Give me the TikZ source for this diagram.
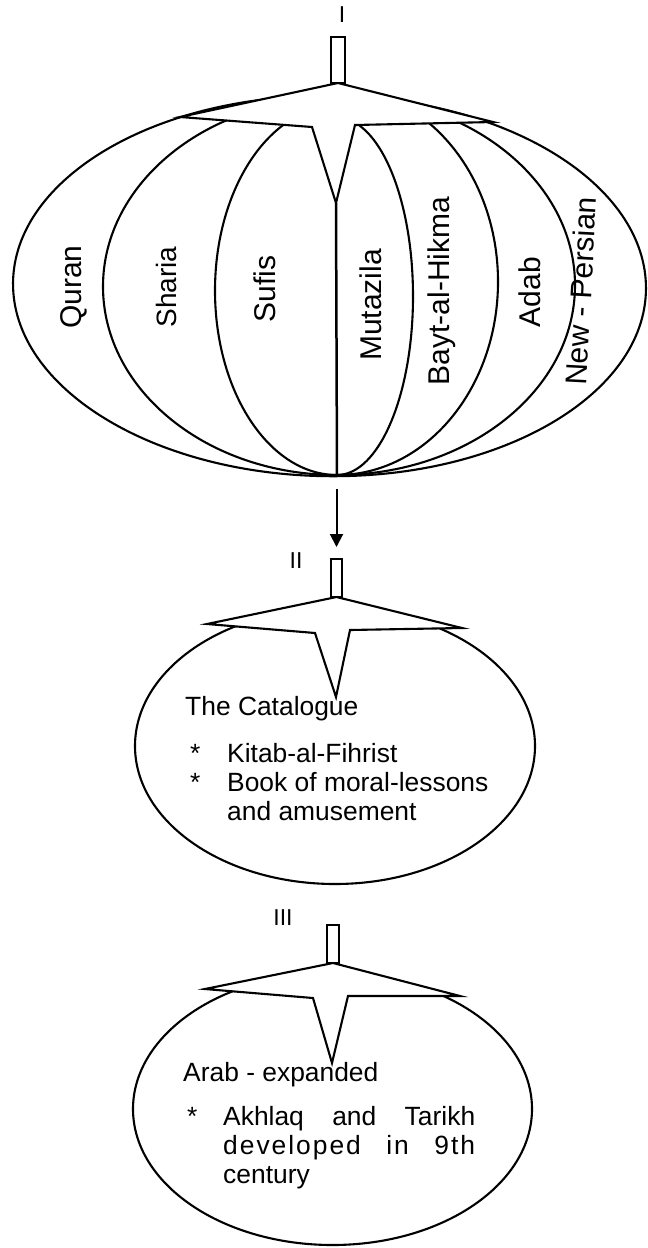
\documentclass[tikz,border=0pt]{standalone}
\usepackage{fontspec}
\setmainfont{Liberation Sans}
\usetikzlibrary{shapes.geometric}
\usetikzlibrary{arrows.meta}
\tikzset{
  % outline of each bubble
  bubble/.style={draw, ellipse, line width=2.1pt, inner sep=0pt, outer sep=0pt},
  % the star-shaped cap sitting on a bubble
  crown/.style={draw, fill=white, line width=2.1pt, line join=miter},
  % the small stem above a cap
  stalk/.style={draw, fill=white, line width=1.8pt, inner sep=0pt, outer sep=0pt, anchor=south},
  % the ribs of the first bubble
  rib/.style={draw, line width=2.1pt},
  seg/.style={font=\fontsize{30}{36}\selectfont, rotate=90, inner sep=0pt},
  txt/.style={font=\fontsize{26.4}{30}\selectfont, anchor=base west, inner sep=0pt},
  num/.style={font=\fontsize{23}{28}\selectfont, inner sep=0pt},
}
\begin{document}
\begin{tikzpicture}[x=1pt, y=-1pt]
  \useasboundingbox (0,0) rectangle (648,1248);

  % bubble I
  \node[bubble, rotate=-0.6, minimum width=633pt, minimum height=380.4pt] (eone) at (329.5,286) {};
  \coordinate (bot) at (337,475);
  \coordinate (tipone) at (336,203);
  \foreach \rx/\ry in {234/188.5, 122/184.4}
    \draw[rib] (bot) arc[start angle=270, end angle=90, x radius=\rx pt, y radius=\ry pt];
  \foreach \rx/\ry in {76/178.7, 161/193.3, 238/189.7}
    \draw[rib] (bot) arc[start angle=-90, end angle=90, x radius=\rx pt, y radius=\ry pt];
  \draw[rib, line width=2.5pt] (bot) -- (tipone);

  \coordinate (apone) at (338,83);
  \draw[crown] (apone) -- +(-158,34) -- +(-26,44) -- +(-2,120) -- +(17,42) -- +(155,39) -- cycle;
  \node[stalk, minimum width=14pt, minimum height=46pt] (rone) at (apone) {};
  \node[num] (lone) at (342,15) {I};

  \node[seg] (quran) at (74,287) {Quran};
  \node[seg, font=\fontsize{28}{34}\selectfont] (sharia) at (166,287) {Sharia};
  \node[seg] (sufis) at (265,289) {Sufis};
  \node[seg] (mutazila) at (371,305) {Mutazila};
  \node[seg] (bayt) at (442,291) {Bayt-al-Hikma};
  \node[seg] (adab) at (530,292) {Adab};
  \node[seg, rotate=-3] (persian) at (581,291) {New - Persian};

  % bubble II
  \node[bubble, minimum width=400pt, minimum height=276pt] (etwo) at (335,746) {};
  \coordinate (aptwo) at (336.5,597);
  \draw[crown] (aptwo) -- +(-129.5,27) -- +(-21.5,36) -- +(-0.5,100) -- +(13.5,33) -- +(125.5,31) -- cycle;
  \node[stalk, minimum width=11pt, minimum height=38pt] (rtwo) at (aptwo) {};
  \node[num] (ltwo) at (296,561) {II};

  \draw[line width=2pt, -{Triangle[length=13pt, width=13pt]}, shorten <=13pt, shorten >=12pt]
    (rtwo |- eone.south) -- (rtwo.north);

  \node[txt] (cattitle) at (185,715) {The Catalogue};
  \node[txt] (catstara) at (190,762) {*};
  \node[txt] (catitema) at (227,762) {Kitab-al-Fihrist};
  \node[txt] (catstarb) at (190,791) {*};
  \node[txt] (catitemb) at (227,791) {Book of moral-lessons};
  \node[txt] (catitemc) at (227,820) {and amusement};

  % bubble III
  \node[bubble, minimum width=399pt, minimum height=272pt] (ethree) at (332.5,1109) {};
  \coordinate (apthree) at (333,963);
  \draw[crown] (apthree) -- +(-128,26) -- +(-20,35) -- +(-1,100) -- +(15,33) -- +(127,33) -- cycle;
  \node[stalk, minimum width=12pt, minimum height=38pt] (rthree) at (apthree) {};
  \node[num] (lthree) at (283,918) {III};

  \node[txt] (arabtitle) at (183,1081) {Arab - expanded};
  \node[txt] (arabstar) at (187,1125) {*};
  \node[txt] (arabla) at (223,1125) {\makebox[252pt][s]{Akhlaq and Tarikh}};
  \node[txt] (arablb) at (223,1154) {\addfontfeature{LetterSpace=7.5}\makebox[252pt][s]{developed in 9th}};
  \node[txt] (arablc) at (223,1183) {century};

\end{tikzpicture}
\end{document}
